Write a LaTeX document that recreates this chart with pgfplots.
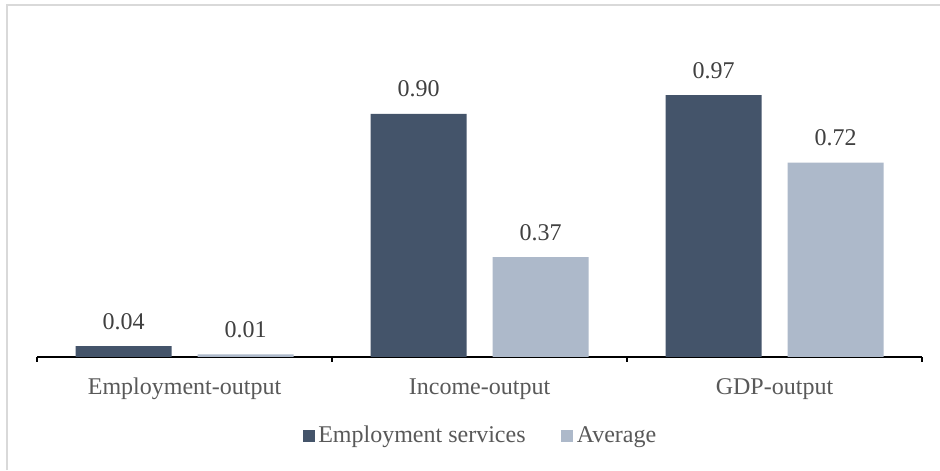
\documentclass[border=0pt]{standalone}
\usepackage{fontspec}
\setmainfont{Liberation Serif}
\usepackage{pgfplots}
\pgfplotsset{compat=1.18}
\definecolor{darkbar}{HTML}{44546A}
\definecolor{lightbar}{HTML}{ADB9CA}
\definecolor{labgray}{HTML}{595959}
\definecolor{valgray}{HTML}{404040}
\definecolor{framegray}{HTML}{D9D9D9}
\begin{document}
\begin{tikzpicture}
\useasboundingbox (0,0) rectangle (470pt,235pt);
\fill[white] (0,0) rectangle (470pt,235pt);
\draw[framegray, line width=1pt] (3.5pt,0) -- (3.5pt,232.5pt) -- (470pt,232.5pt);
\begin{axis}[
  at={(18.5pt,56.5pt)}, anchor=south west,
  scale only axis, width=442.5pt, height=162pt,
  xmin=-0.5, xmax=2.5, ymin=0, ymax=1.2,
  axis x line*=bottom, axis y line=none,
  axis line style={black, line width=1pt},
  ybar=13pt, bar width=48pt,
  xtick={0,1,2},
  xticklabels={Employment-output, Income-output, GDP-output},
  major tick length=0pt,
  extra x ticks={-0.5,0.5,1.5,2.5},
  extra x tick labels={},
  extra x tick style={major tick length=2.5pt, tick align=outside, tick style={black, line width=1pt}},
  xticklabel style={font=\fontsize{12}{14}\selectfont, text=labgray, anchor=base, yshift=-19pt},
  /pgf/number format/assume math mode=true,
  nodes near coords,
  nodes near coords style={font=\fontsize{12}{14}\selectfont, text=valgray, anchor=base, yshift=8.5pt,
    /pgf/number format/.cd, fixed, fixed zerofill, precision=2, assume math mode=true},
  legend columns=2,
  legend style={at={(0.502,-0.244)}, anchor=center, draw=none, fill=none,
    font=\fontsize{12}{14}\selectfont, text=labgray,
    /tikz/every even column/.append style={column sep=16pt},
    nodes={inner sep=1.8pt}},
  legend image code/.code={\fill[#1] (0pt,-3pt) rectangle (6pt,3pt);},
]
\addplot[fill=darkbar, draw=none] coordinates {(0,0.04) (1,0.90) (2,0.97)};
\addplot[fill=lightbar, draw=none] coordinates {(0,0.01) (1,0.37) (2,0.72)};
\legend{Employment services, Average}
\end{axis}
\end{tikzpicture}
\end{document}
